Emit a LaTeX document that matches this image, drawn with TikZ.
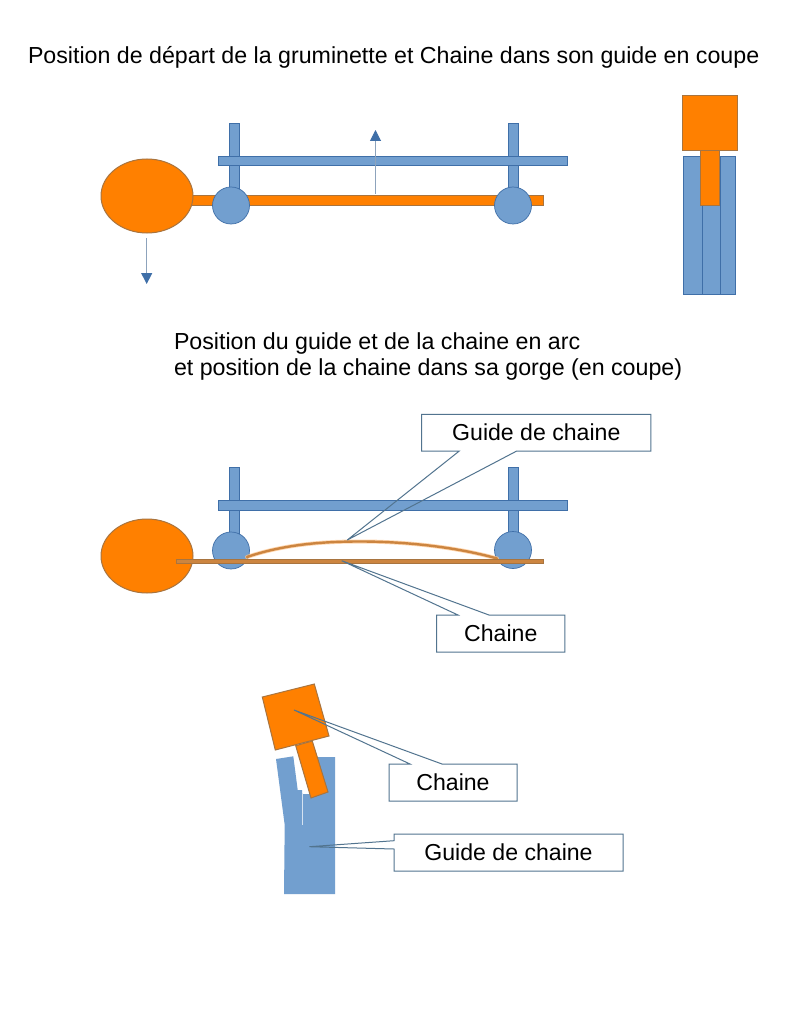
\documentclass[tikz,border=0pt]{standalone}
\usepackage{fontspec}
\setmainfont{Liberation Sans}
\usetikzlibrary{arrows.meta,calc,shapes.geometric}
\definecolor{bluefill}{HTML}{729FCF}
\definecolor{blueline}{HTML}{3F6FA8}
\definecolor{orangefill}{HTML}{FF8000}
\definecolor{orangeline}{HTML}{A8743F}
\definecolor{chainfill}{HTML}{CC8540}
\definecolor{shaftcol}{HTML}{8DA3BC}
\definecolor{calloutcol}{HTML}{52748F}
\tikzset{
  x=1pt,y=-1pt,
  bluebar/.style={fill=bluefill,draw=blueline,line width=0.6pt},
  orangebar/.style={fill=orangefill,draw=orangeline,line width=1pt},
  headtext/.style={font=\fontsize{23.2}{27}\selectfont,anchor=base west,inner sep=0pt,outer sep=0pt},
  boxtext/.style={font=\fontsize{23.1}{27}\selectfont,inner sep=0pt,outer sep=0pt},
  callout/.style={draw=calloutcol,line width=1pt,line join=miter},
  movearrow/.style={draw=shaftcol,line width=1pt,-{Triangle[length=11pt,width=11pt,color=blueline]}},
  roller/.style={circle,fill=bluefill,draw=blueline,line width=0.7pt,minimum size=37pt,inner sep=0pt,outer sep=0pt},
  handle/.style={ellipse,fill=orangefill,draw=orangeline,line width=1pt,minimum width=92pt,minimum height=74pt,inner sep=0pt,outer sep=0pt},
}
\begin{document}
\begin{tikzpicture}
\useasboundingbox (0,0) rectangle (791,1024);
\fill[white] (0,0) rectangle (791,1024);

% Titles
\node[headtext] (title1) at (28,64) {Position de départ de la gruminette et Chaine dans son guide en coupe};
\node[headtext] (title2) at (174,349) {Position du guide et de la chaine en arc};
\node[headtext] (title3) at (174,375) {et position de la chaine dans sa gorge (en coupe)};

% Figure 1
\draw[bluebar] (229,123) rectangle (239,195);
\draw[bluebar] (508,123) rectangle (518,195);
\draw[bluebar] (218,156) rectangle (567,165.5);
\draw[orangebar] (185,196) rectangle (543,206);
\node[handle] (h1) at (147,196) {};
\node[roller] (r1) at (231,205.5) {};
\node[roller] (r2) at (513,205.5) {};
\coordinate (up0) at (375.5,194);
\coordinate (up1) at (375.5,130);
\coordinate (dn0) at (146.7,238);
\coordinate (dn1) at (146.7,284);
\draw[movearrow] (up0) -- (up1);
\draw[movearrow] (dn0) -- (dn1);

% Section, top right
\draw[bluebar] (683.7,156) rectangle (702.5,294);
\draw[bluebar] (702.5,156) rectangle (720.7,294);
\draw[bluebar] (720.7,156) rectangle (735.3,294);
\draw[orangebar] (682,96) rectangle (737.3,151);
\draw[orangebar] (700.7,151) rectangle (719,206);

% Figure 2
\draw[bluebar] (229,467) rectangle (239,535);
\draw[bluebar] (508,467) rectangle (518,535);
\draw[bluebar] (218,500.7) rectangle (567,510);
\node[handle] (h2) at (147,556) {};
\node[roller] (r3) at (231,550.5) {};
\node[roller] (r4) at (513,550) {};
\draw[orangefill!45,line width=4pt,line cap=round,opacity=.7]
  (247,557) .. controls (285,544) and (325,541.5) .. (360,541.5) .. controls (410,541.5) and (460,548) .. (497,558.5);
\draw[chainfill,line width=2.4pt,line cap=round]
  (247,557) .. controls (285,544) and (325,541.5) .. (360,541.5) .. controls (410,541.5) and (460,548) .. (497,558.5);
\draw[fill=chainfill,draw=orangeline,line width=0.8pt] (176,559) rectangle (543,563.5);

% Callouts, figure 2
\node[boxtext,minimum width=229.3pt,minimum height=36.7pt] (guide1) at (536.3,432.7) {Guide de chaine};
\coordinate (guide1tip) at (347.3,540);
\draw[callout] (guide1.south west) -- ([xshift=37.6pt]guide1.south west) -- (guide1tip) -- ([xshift=95pt]guide1.south west) -- (guide1.south east) -- (guide1.north east) -- (guide1.north west) -- cycle;
\node[boxtext,minimum width=128.3pt,minimum height=37pt] (chaine1) at (500.8,633.5) {Chaine};
\coordinate (chaine1tip) at (341.7,560.7);
\draw[callout] (chaine1.north west) -- ([xshift=21.3pt]chaine1.north west) -- (chaine1tip) -- ([xshift=52.3pt]chaine1.north west) -- (chaine1.north east) -- (chaine1.south east) -- (chaine1.south west) -- cycle;

% Section, tilted
\fill[bluefill] (276,759) -- (293.3,756.3) -- (297.7,790) -- (302,790) -- (302.3,794) -- (318,794) -- (310,757) -- (335,757) -- (335,894) -- (284,894) -- (284.7,825) -- cycle;
\draw[white!70!bluefill,line width=0.6pt] (302,794) -- (302,825);
\draw[orangebar] (295.7,745.7) -- (312.3,741) -- (328,792) -- (311,798) -- cycle;
\draw[orangebar] (262.3,697) -- (314.3,684) -- (329,736) -- (275.3,750) -- cycle;

% Callouts, tilted section
\node[boxtext,minimum width=128pt,minimum height=37pt] (chaine2) at (453,782.5) {Chaine};
\coordinate (chaine2tip) at (294,710);
\draw[callout] (chaine2.north west) -- ([xshift=21pt]chaine2.north west) -- (chaine2tip) -- ([xshift=53pt]chaine2.north west) -- (chaine2.north east) -- (chaine2.south east) -- (chaine2.south west) -- cycle;
\node[boxtext,minimum width=229pt,minimum height=37pt] (guide2) at (508.5,852.5) {Guide de chaine};
\coordinate (guide2tip) at (309.3,846.7);
\draw[callout] (guide2.north west) -- ([yshift=-6.7pt]guide2.north west) -- (guide2tip) -- ([yshift=-15pt]guide2.north west) -- (guide2.south west) -- (guide2.south east) -- (guide2.north east) -- cycle;
\end{tikzpicture}
\end{document}
